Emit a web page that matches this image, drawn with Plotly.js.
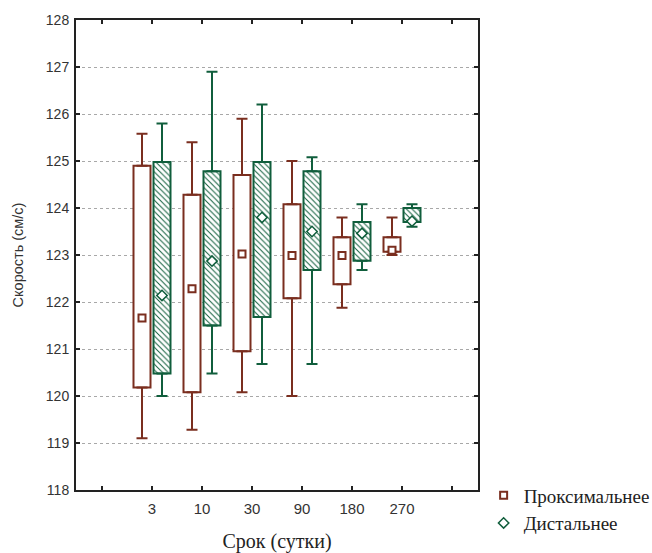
<!DOCTYPE html>
<html><head><meta charset="utf-8">
<script src="https://cdn.plot.ly/plotly-3.0.1.min.js"></script>
<style>html,body{margin:0;padding:0;background:#fff}#chart{width:652px;height:553px}</style>
</head><body><div id="chart"></div>
<script>
const groups = ['3','10','30','90','180','270'];
const proxMin  = [119.10, 119.28, 120.08, 120.00, 121.88, 123.00];
const proxQ1   = [120.18, 120.08, 120.95, 122.08, 122.38, 123.07];
const proxMean = [121.66, 122.28, 123.02, 122.99, 122.99, 123.10];
const proxQ3   = [124.90, 124.28, 124.70, 124.08, 123.38, 123.38];
const proxMax  = [125.58, 125.40, 125.90, 125.00, 123.80, 123.80];
const distMin  = [120.00, 120.48, 120.68, 120.68, 122.68, 123.60];
const distQ1   = [120.48, 121.50, 121.68, 122.68, 122.88, 123.70];
const distMean = [122.14, 122.87, 123.80, 123.50, 123.46, 123.72];
const distQ3   = [124.98, 124.78, 124.98, 124.78, 123.70, 124.00];
const distMax  = [125.80, 126.90, 126.20, 125.08, 124.08, 124.08];
const seriesNames = ['Проксимальнее', 'Дистальнее'];

const brown = '#7a2e1f', green = '#105e3c';
const pos = groups.map((g,i)=>i+1);
const shift = 0.2, bw = 0.34;
const xp = pos.map(p=>p-shift), xd = pos.map(p=>p+shift);

function boxTrace(x, lo, hi, color, pattern){
  return {type:'bar', x:x, base:lo, y:hi.map((h,i)=>h-lo[i]), width:bw,
    marker:{color:'#fff', line:{color:color, width:2},
      pattern: pattern ? {shape:'\\', fgcolor:color, bgcolor:'#fff', size:4, solidity:0.25} : undefined},
    showlegend:false, hoverinfo:'skip'};
}
function whiskerTrace(x, q1, q3, mn, mx, color){
  return {type:'scatter', mode:'markers',
    x: x.concat(x), y: q3.concat(q1),
    marker:{size:1, opacity:0},
    error_y:{type:'data', symmetric:false,
      array: mx.map((v,i)=>v-q3[i]).concat(q1.map(()=>0)),
      arrayminus: q3.map(()=>0).concat(q1.map((v,i)=>v-mn[i])),
      color:color, thickness:2, width:5.5},
    showlegend:false, hoverinfo:'skip'};
}
const data = [
  boxTrace(xp, proxQ1, proxQ3, brown, false),
  boxTrace(xd, distQ1, distQ3, green, true),
  whiskerTrace(xp, proxQ1, proxQ3, proxMin, proxMax, brown),
  whiskerTrace(xd, distQ1, distQ3, distMin, distMax, green),
  {type:'scatter', mode:'markers', name:seriesNames[0], x:xp, y:proxMean,
   marker:{symbol:'square', size:7, color:'#fff', line:{color:brown, width:2}}},
  {type:'scatter', mode:'markers', name:seriesNames[1], x:xd, y:distMean,
   marker:{symbol:'diamond', size:8, color:'#fff', line:{color:green, width:1.5}}}
];
const layout = {
  width:652, height:553,
  margin:{l:76, r:174, t:20, b:63, autoexpand:false},
  paper_bgcolor:'#fff', plot_bgcolor:'#fff',
  barmode:'overlay',
  font:{family:'Liberation Sans, Arial, sans-serif', size:13, color:'#333'},
  xaxis:{range:[-0.52, 7.52], tickvals:[0,1,2,3,4,5,6,7], ticktext:[''].concat(groups,['']),
    showgrid:false, zeroline:false, showline:true, linecolor:'#222', linewidth:2, mirror:'ticks',
    ticks:'inside', ticklen:4, tickwidth:1.5, tickcolor:'#222',
    tickfont:{size:15, color:'#333'}, ticklabelstandoff:4,
    title:{text:'Срок (сутки)', font:{family:'Liberation Serif, Times New Roman, serif', size:20, color:'#222'}, standoff:21}},
  yaxis:{range:[118,128], dtick:1, tick0:118,
    showgrid:true, gridcolor:'#a8a8a8', griddash:'dot', gridwidth:1, zeroline:false,
    showline:true, linecolor:'#222', linewidth:2, mirror:'ticks',
    ticks:'inside', ticklen:4, tickwidth:1.5, tickcolor:'#222',
    tickfont:{size:14, color:'#333'}, ticklabelstandoff:2,
    title:{text:'Скорость (см/с)', font:{size:14.5, color:'#333'}, standoff:19}},
  legend:{x:1.014, xanchor:'left', y:0.029, yanchor:'top',
    font:{family:'Liberation Serif, Times New Roman, serif', size:19, color:'#222'},
    bgcolor:'rgba(0,0,0,0)', tracegroupgap:0}
};
Plotly.newPlot('chart', data, layout, {displayModeBar:false, staticPlot:true});
</script></body></html>
